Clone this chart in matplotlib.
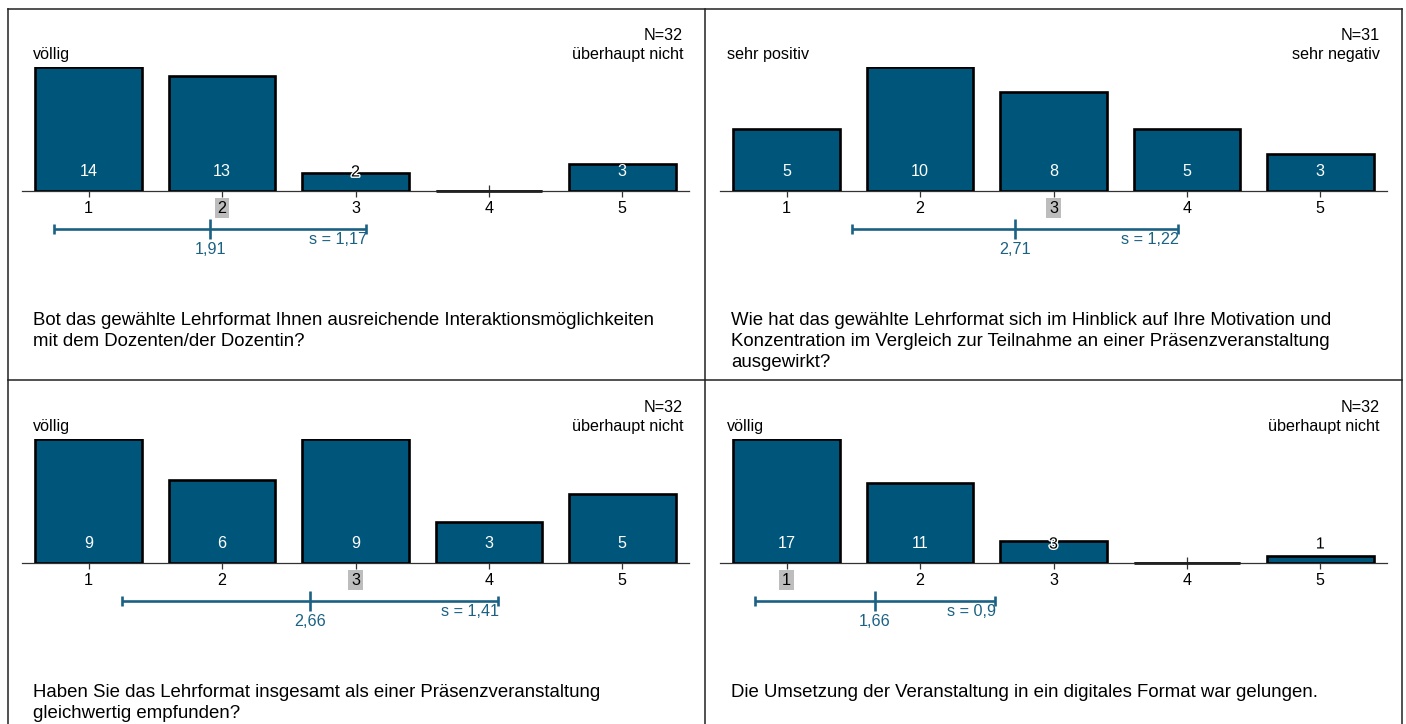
import matplotlib
matplotlib.use("Agg")
import matplotlib.pyplot as plt
import matplotlib.patheffects as pe
import matplotlib.transforms as mtransforms
from matplotlib.lines import Line2D

plt.rcParams['font.family'] = ['Liberation Sans', 'DejaVu Sans']

# ---------------- data ----------------
categories = [1, 2, 3, 4, 5]
counts_q1 = [14, 13, 2, 0, 3]
counts_q2 = [5, 10, 8, 5, 3]
counts_q3 = [9, 6, 9, 3, 5]
counts_q4 = [17, 11, 3, 0, 1]
n_values = [32, 31, 32, 32]
means = [1.91, 2.71, 2.66, 1.66]
sds = [1.17, 1.22, 1.41, 0.9]
medians = [2, 3, 3, 1]
left_labels = ["völlig", "sehr positiv", "völlig", "völlig"]
right_labels = ["überhaupt nicht", "sehr negativ", "überhaupt nicht", "überhaupt nicht"]
questions = [
    "Bot das gewählte Lehrformat Ihnen ausreichende Interaktionsmöglichkeiten\nmit dem Dozenten/der Dozentin?",
    "Wie hat das gewählte Lehrformat sich im Hinblick auf Ihre Motivation und\nKonzentration im Vergleich zur Teilnahme an einer Präsenzveranstaltung\nausgewirkt?",
    "Haben Sie das Lehrformat insgesamt als einer Präsenzveranstaltung\ngleichwertig empfunden?",
    "Die Umsetzung der Veranstaltung in ein digitales Format war gelungen.",
]
all_counts = [counts_q1, counts_q2, counts_q3, counts_q4]

def fmt(v):
    s = ("%.2f" % v).rstrip('0').rstrip('.')
    return s.replace('.', ',')

# ---------------- style ----------------
W, H = 1406, 724
BAR_COLOR = '#00567a'
LINE_COLOR = '#1b6183'
FS = 11.6
BAR_W = 0.8

fig = plt.figure(figsize=(W / 100, H / 100), dpi=100)

def fx(px):
    return px / W

def fy(py):
    return 1 - py / H

# panel geometry (pixel coords, from top-left)
panel_x = [8, 705, 8, 705]
panel_y = [8, 8, 380, 380]
axes_left_off = [14, 15, 14, 15]

for i in range(4):
    px0, py0 = panel_x[i], panel_y[i]
    base = py0 + 183
    top = py0 + 59
    left = px0 + axes_left_off[i]
    ax = fig.add_axes([fx(left), fy(base), 667 / W, (base - top) / H])
    counts = all_counts[i]
    cmax = max(counts)
    ax.bar(categories, counts, width=BAR_W, color=BAR_COLOR, edgecolor='black',
           linewidth=1.9, zorder=2)
    # empty categories drawn as a flat outlined bar
    for c, v in zip(categories, counts):
        if v == 0:
            ax.plot([c - BAR_W / 2, c + BAR_W / 2], [v, v], color='#222222', lw=2.0,
                    solid_capstyle='butt', zorder=3, clip_on=False)
    ax.set_xlim(0.5, 5.5)
    ax.set_ylim(0, cmax)
    for s in ['top', 'left', 'right']:
        ax.spines[s].set_visible(False)
    ax.spines['bottom'].set_color('#333333')
    ax.spines['bottom'].set_linewidth(0.9)
    ax.spines['bottom'].set_zorder(1)
    ax.set_yticks([])
    ax.set_xticks(categories)
    ax.set_xticklabels([str(c) for c in categories], fontsize=FS)
    ax.tick_params(axis='x', direction='inout', length=8, width=0.9,
                   color='#333333', pad=3)
    for lbl, c in zip(ax.get_xticklabels(), categories):
        if c == medians[i]:
            lbl.set_bbox(dict(facecolor='#bdbdbd', edgecolor='none', pad=2.0))
    ax.patch.set_alpha(0)

    # count labels
    for c, v in zip(categories, counts):
        frac = v / cmax
        if v == 0:
            continue
        if frac >= 0.2:
            ax.annotate(str(v), (c, 0), xytext=(0, 19), textcoords='offset pixels',
                        ha='center', va='center', fontsize=FS, color='white', zorder=5)
        else:
            ax.annotate(str(v), (c, 0), xytext=(0, 19), textcoords='offset pixels',
                        ha='center', va='center', fontsize=FS, color='black', zorder=5,
                        path_effects=[pe.withStroke(linewidth=2, foreground='white')])

    # mean / sd line
    m, s = means[i], sds[i]
    lo, hi = m - s, m + s
    trans = mtransforms.offset_copy(ax.get_xaxis_transform(), fig=fig, x=0, y=-38,
                                    units='dots')
    ax.plot([lo, hi], [0, 0], color=LINE_COLOR, lw=1.9, transform=trans, clip_on=False,
            solid_capstyle='butt')
    ax.plot([lo, hi], [0, 0], ls='none', marker='|', markersize=7.5, mew=1.9,
            color=LINE_COLOR, transform=trans, clip_on=False)
    ax.plot([m], [0], ls='none', marker='|', markersize=14.5, mew=1.9,
            color=LINE_COLOR, transform=trans, clip_on=False)
    ax.annotate(fmt(m), (m, 0), xycoords=ax.get_xaxis_transform(), xytext=(0, -58),
                textcoords='offset pixels', ha='center', va='center', fontsize=FS,
                color=LINE_COLOR)
    ax.annotate("s = " + fmt(s), (hi, 0), xycoords=ax.get_xaxis_transform(),
                xytext=(1, -49), textcoords='offset pixels', ha='right', va='center',
                fontsize=FS, color=LINE_COLOR)

    # side labels
    lx = px0 + (25 if i % 2 == 0 else 22)
    rx = px0 + 675
    fig.text(fx(lx), fy(py0 + 46), left_labels[i], ha='left', va='center', fontsize=FS)
    fig.text(fx(rx), fy(py0 + 46), right_labels[i], ha='right', va='center', fontsize=FS)
    fig.text(fx(rx), fy(py0 + 27), "N=%d" % n_values[i], ha='right', va='center',
             fontsize=FS)

    # question
    qx = px0 + (25 if i % 2 == 0 else 26)
    fig.text(fx(qx), fy(py0 + 304), questions[i], ha='left', va='top', fontsize=13.4,
             linespacing=1.3)

# frame lines
frame_color = '#222222'
lw = 1.1
fig.add_artist(Line2D([fx(8), fx(8)], [fy(8.5), fy(724)], color=frame_color, lw=lw))
fig.add_artist(Line2D([fx(1401.5), fx(1401.5)], [fy(8.5), fy(724)], color=frame_color, lw=lw))
fig.add_artist(Line2D([fx(704.5), fx(704.5)], [fy(8.5), fy(724)], color=frame_color, lw=lw))
fig.add_artist(Line2D([fx(8), fx(1401.5)], [fy(8.5), fy(8.5)], color=frame_color, lw=lw))
fig.add_artist(Line2D([fx(8), fx(1401.5)], [fy(380), fy(380)], color=frame_color, lw=lw))

fig.savefig("out.png", dpi=100)
